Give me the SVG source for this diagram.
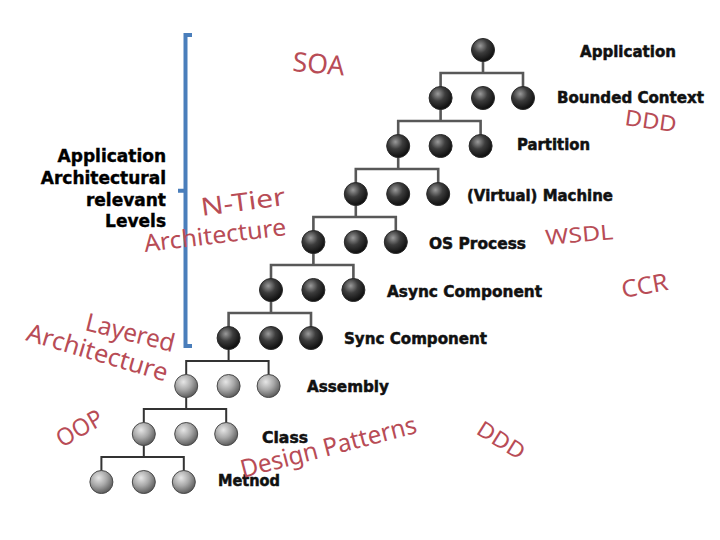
<svg xmlns="http://www.w3.org/2000/svg" width="720" height="540" viewBox="0 0 720 540">
<defs>
<radialGradient id="gDark" cx="38%" cy="32%" r="70%">
<stop offset="0" stop-color="#9a9a9a"/>
<stop offset="0.45" stop-color="#3c3c3c"/>
<stop offset="1" stop-color="#0c0c0c"/>
</radialGradient>
<radialGradient id="gLight" cx="38%" cy="32%" r="70%">
<stop offset="0" stop-color="#e6e6e6"/>
<stop offset="0.5" stop-color="#a9a9a9"/>
<stop offset="1" stop-color="#5a5a5a"/>
</radialGradient>
<style>
.d{fill:url(#gDark);stroke:#2a2a2a;stroke-width:1}
.l{fill:url(#gLight);stroke:#4a4a4a;stroke-width:1}
.c{fill:none;stroke:#585858;stroke-width:2.6}
.c2{fill:none;stroke:#333;stroke-width:2}
.lab{font-family:"DejaVu Sans",sans-serif;font-weight:bold;font-size:15px;fill:#111;stroke:#111;stroke-width:0.5}
.big{font-family:"DejaVu Sans",sans-serif;font-weight:bold;font-size:17px;fill:#000;stroke:#000;stroke-width:0.4;text-anchor:end}
.hw{font-family:"Comic Sans MS","Noto Sans",sans-serif;fill:#b84c56}
</style>
</defs>
<rect width="720" height="540" fill="#fff"/>

<g id="connectors">
<path class="c" d="M483,50 V73 M440.6,98 V73 H523 V98"/>
<path class="c" d="M440.6,98 V121 M398.2,146 V121 H480.6 V146"/>
<path class="c" d="M398.2,146 V169 M355.8,194 V169 H438.2 V194"/>
<path class="c" d="M355.8,194 V217 M313.4,242 V217 H395.8 V242"/>
<path class="c" d="M313.4,242 V265 M271,290 V265 H353.4 V290"/>
<path class="c" d="M271,290 V313 M228.6,338 V313 H311 V338"/>
<path class="c2" d="M228.6,338 V361 M186.2,386 V361 H268.6 V386"/>
<path class="c2" d="M186.2,386 V409 M143.8,434 V409 H226.2 V434"/>
<path class="c2" d="M143.8,434 V457 M101.4,482 V457 H183.8 V482"/>
</g>

<g id="n0"><circle class="d" cx="483" cy="50" r="11.5"/></g>
<g id="n1a"><circle class="d" cx="440.6" cy="98" r="11.5"/></g>
<g id="n1b"><circle class="d" cx="483" cy="98" r="11.5"/></g>
<g id="n1c"><circle class="d" cx="523" cy="98" r="11.5"/></g>
<g id="n2a"><circle class="d" cx="398.2" cy="146" r="11.5"/></g>
<g id="n2b"><circle class="d" cx="440.6" cy="146" r="11.5"/></g>
<g id="n2c"><circle class="d" cx="480.6" cy="146" r="11.5"/></g>
<g id="n3a"><circle class="d" cx="355.8" cy="194" r="11.5"/></g>
<g id="n3b"><circle class="d" cx="398.2" cy="194" r="11.5"/></g>
<g id="n3c"><circle class="d" cx="438.2" cy="194" r="11.5"/></g>
<g id="n4a"><circle class="d" cx="313.4" cy="242" r="11.5"/></g>
<g id="n4b"><circle class="d" cx="355.8" cy="242" r="11.5"/></g>
<g id="n4c"><circle class="d" cx="395.8" cy="242" r="11.5"/></g>
<g id="n5a"><circle class="d" cx="271" cy="290" r="11.5"/></g>
<g id="n5b"><circle class="d" cx="313.4" cy="290" r="11.5"/></g>
<g id="n5c"><circle class="d" cx="353.4" cy="290" r="11.5"/></g>
<g id="n6a"><circle class="d" cx="228.6" cy="338" r="11.5"/></g>
<g id="n6b"><circle class="d" cx="271" cy="338" r="11.5"/></g>
<g id="n6c"><circle class="d" cx="311" cy="338" r="11.5"/></g>
<g id="n7a"><circle class="l" cx="186.2" cy="386" r="11.5"/></g>
<g id="n7b"><circle class="l" cx="228.6" cy="386" r="11.5"/></g>
<g id="n7c"><circle class="l" cx="268.6" cy="386" r="11.5"/></g>
<g id="n8a"><circle class="l" cx="143.8" cy="434" r="11.5"/></g>
<g id="n8b"><circle class="l" cx="186.2" cy="434" r="11.5"/></g>
<g id="n8c"><circle class="l" cx="226.2" cy="434" r="11.5"/></g>
<g id="n9a"><circle class="l" cx="101.4" cy="482" r="11.5"/></g>
<g id="n9b"><circle class="l" cx="143.8" cy="482" r="11.5"/></g>
<g id="n9c"><circle class="l" cx="183.8" cy="482" r="11.5"/></g>

<g id="levels">
<text class="lab" x="580" y="57" textLength="96" lengthAdjust="spacingAndGlyphs">Application</text>
<text class="lab" x="557" y="103" textLength="147" lengthAdjust="spacingAndGlyphs">Bounded Context</text>
<text class="lab" x="517" y="150" textLength="73" lengthAdjust="spacingAndGlyphs">Partition</text>
<text class="lab" x="467" y="201" textLength="146" lengthAdjust="spacingAndGlyphs">(Virtual) Machine</text>
<text class="lab" x="429" y="249" textLength="97" lengthAdjust="spacingAndGlyphs">OS Process</text>
<text class="lab" x="387" y="297" textLength="155" lengthAdjust="spacingAndGlyphs">Async Component</text>
<text class="lab" x="344" y="344" textLength="143" lengthAdjust="spacingAndGlyphs">Sync Component</text>
<text class="lab" x="307" y="392" textLength="82" lengthAdjust="spacingAndGlyphs">Assembly</text>
<text class="lab" x="262" y="443" textLength="46" lengthAdjust="spacingAndGlyphs">Class</text>
<text class="lab" x="218" y="486" textLength="62" lengthAdjust="spacingAndGlyphs">Metnod</text>
</g>

<g id="bracket">
<path d="M192,35 H185.5 V346 H192 M185.5,190.7 H178" fill="none" stroke="#4a7ebb" stroke-width="4"/>
<text class="big" x="166" y="162">Application</text>
<text class="big" x="166" y="184">Architectural</text>
<text class="big" x="166" y="206">relevant</text>
<text class="big" x="166" y="227">Levels</text>
</g>

<g id="notes">
<text class="hw" font-size="27" x="292" y="71" textLength="52" lengthAdjust="spacingAndGlyphs" transform="rotate(5 292 71)">SOA</text>
<text class="hw" font-size="22" x="624" y="125" textLength="52" lengthAdjust="spacingAndGlyphs" transform="rotate(8 624 125)">DDD</text>
<text class="hw" font-size="25" x="202" y="216" textLength="85" lengthAdjust="spacingAndGlyphs" transform="rotate(-7.5 202 216)">N-Tier</text>
<text class="hw" font-size="24" x="145" y="252" textLength="143" lengthAdjust="spacingAndGlyphs" transform="rotate(-6.8 145 252)">Architecture</text>
<text class="hw" font-size="21" x="546" y="245" textLength="68" lengthAdjust="spacingAndGlyphs" transform="rotate(-5 546 245)">WSDL</text>
<text class="hw" font-size="24" x="623" y="298" textLength="47" lengthAdjust="spacingAndGlyphs" transform="rotate(-10 623 298)">CCR</text>
<text class="hw" font-size="25" x="84" y="330" textLength="91" lengthAdjust="spacingAndGlyphs" transform="rotate(14 84 330)">Layered</text>
<text class="hw" font-size="25" x="25" y="340" textLength="146" lengthAdjust="spacingAndGlyphs" transform="rotate(16.5 25 340)">Architecture</text>
<text class="hw" font-size="24" x="62" y="448" textLength="50" lengthAdjust="spacingAndGlyphs" transform="rotate(-30 62 448)">OOP</text>
<text class="hw" font-size="25" x="243" y="478" textLength="181" lengthAdjust="spacingAndGlyphs" transform="rotate(-14.5 243 478)">Design Patterns</text>
<text class="hw" font-size="22" x="475" y="433" textLength="52" lengthAdjust="spacingAndGlyphs" transform="rotate(32 475 433)">DDD</text>
</g>
</svg>
